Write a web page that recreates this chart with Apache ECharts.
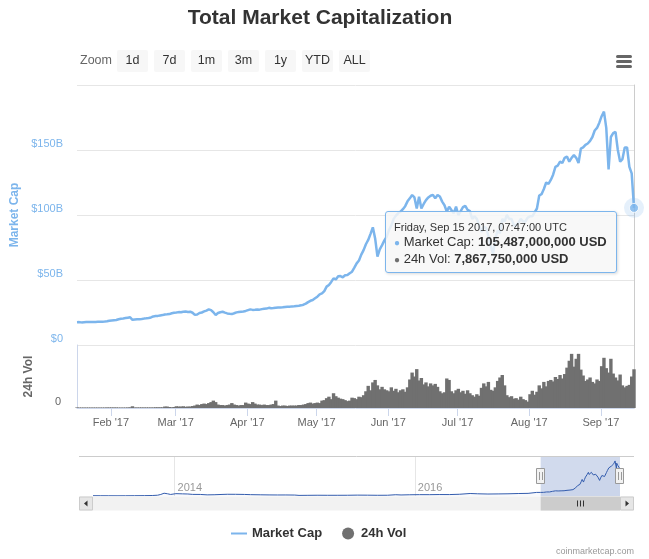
<!DOCTYPE html>
<html><head><meta charset="utf-8">
<script src="https://cdn.jsdelivr.net/npm/echarts@6/dist/echarts.min.js"></script>
<style>html,body{margin:0;padding:0;background:#fff}#c{width:649px;height:559px}</style>
</head><body><div id="c"></div>
<script>
// ---- data (billions of USD) ----
const startTime = Date.UTC(2017, 0, 17, 7, 47); // first daily point
const marketCapB = [
  // Jan 17-31
  17.5,17.6,17.4,17.5,17.6,17.7,17.6,17.6,17.7,17.8,17.8,17.9,18.0,18.3,18.7,
  // Feb
  18.9,19.1,19.2,19.8,20.2,20.4,20.7,21.0,21.3,19.4,19.6,19.8,19.8,20.0,20.3,20.5,20.8,21.2,22.0,22.3,22.4,22.7,23.0,23.5,23.6,23.8,24.4,24.8,
  // Mar
  25.0,25.3,25.2,25.6,25.8,25.4,25.6,24.8,23.2,23.5,24.6,25.0,25.8,26.5,27.4,26.8,25.2,23.1,24.6,25.2,25.6,24.9,24.3,24.0,23.8,24.4,25.1,25.4,25.6,25.8,26.2,
  // Apr
  26.8,27.4,27.0,27.1,27.3,27.2,27.6,27.9,28.0,28.6,28.2,28.4,28.7,28.9,28.8,29.0,29.3,29.5,29.4,29.7,29.8,30.0,30.2,30.5,31.0,31.8,33.0,34.0,34.6,35.9,
  // May
  37.2,39.0,39.7,41.5,44.9,46.2,48.5,51.3,50.4,52.8,53.0,52.1,53.6,53.8,55.2,56.4,59.5,62.8,65.0,69.5,73.0,77.5,80.8,85.5,90.5,82.0,68.0,73.5,76.8,80.5,83.3,
  // Jun
  88.5,92.0,97.0,99.5,101.5,102.6,104.5,106.8,110.5,112.8,115.4,113.5,105.0,114.0,105.0,108.5,111.5,113.5,114.8,115.5,112.8,115.4,114.2,110.3,107.5,102.6,106.4,103.8,101.3,106.4,
  // Jul
  100,103,106,107,104,103,97,99,97,92,87,91,90,84,76,70,82,88,86,97,95,100,97,97,92,92,94,97,95,95,98,
  // Aug
  99,99,102,105,115,116,120,125,124,127,131,137,138,141,140,144,145,141,144,146,144,140,151,152,154,155,157,160,165,167,171,
  // Sep 1-15
  176,179.5,167,135,160,163,164,150,141,143,152,152,137,132,105.487
];
const volumeB = [
  // Jan 17-31
  0.12,0.1,0.1,0.1,0.1,0.1,0.1,0.1,0.1,0.1,0.1,0.1,0.1,0.12,0.12,
  // Feb
  0.12,0.12,0.12,0.1,0.1,0.1,0.1,0.12,0.15,0.35,0.12,0.12,0.12,0.12,0.12,0.12,0.12,0.12,0.12,0.15,0.15,0.15,0.15,0.3,0.3,0.2,0.15,0.2,
  // Mar
  0.35,0.3,0.3,0.35,0.25,0.3,0.3,0.4,0.5,0.7,0.6,0.8,0.9,0.8,1.0,1.2,1.5,1.2,0.7,0.6,0.6,0.5,0.6,0.7,1.0,0.7,0.6,0.5,0.6,0.6,1.1,
  // Apr
  0.9,0.8,1.2,0.9,0.7,0.7,0.6,0.7,0.6,0.6,0.7,0.8,1.5,0.5,0.4,0.5,0.5,0.4,0.5,0.5,0.5,0.5,0.6,0.6,0.7,0.8,1.0,1.1,0.9,1.0,
  // May
  1.1,1.0,1.5,1.6,2.0,2.3,1.8,3.0,2.4,2.1,1.9,1.8,1.6,1.4,1.5,2.1,2.0,1.8,2.3,2.2,2.6,3.4,4.5,3.6,5.2,5.7,4.6,3.8,4.3,3.8,3.6,
  // Jun
  3.4,4.2,3.5,3.9,3.2,3.6,3.8,3.3,4.2,5.8,7.2,6.4,7.9,5.6,6.1,4.8,5.2,4.4,5.0,4.6,4.9,4.3,3.4,3.0,3.2,6.0,5.7,3.4,3.0,3.6,
  // Jul
  3.9,3.2,3.5,2.9,3.6,3.0,2.6,2.3,2.8,2.5,4.1,5.0,4.4,5.3,3.7,3.5,4.2,5.5,6.2,6.7,4.6,2.6,2.2,2.4,1.9,2.0,1.7,2.3,1.8,1.6,1.3,
  // Aug
  2.8,3.5,2.7,3.3,4.6,4.0,5.3,4.4,5.5,5.7,5.4,6.3,5.9,6.7,6.0,6.9,8.2,9.6,11.0,8.4,10.0,11.0,7.8,6.6,5.5,5.8,6.2,5.3,5.0,5.8,5.5,
  // Sep 1-15
  8.5,10.2,8.1,7.2,10.0,7.0,6.2,5.6,6.8,4.6,4.2,4.5,4.7,6.4,7.86775
];
// navigator history before the zoomed window
const navHistDates = ['2013-04-28','2013-05-20','2013-06-15','2013-07-10','2013-08-05','2013-09-01','2013-10-01','2013-10-25','2013-11-10','2013-11-20','2013-11-30','2013-12-10','2013-12-20',
  '2014-01-05','2014-01-25','2014-02-10','2014-02-25','2014-03-20','2014-04-10','2014-05-01','2014-05-25','2014-06-10','2014-07-05','2014-08-01','2014-08-20','2014-09-20','2014-10-15','2014-11-10','2014-12-05',
  '2015-01-01','2015-01-14','2015-02-10','2015-03-10','2015-04-10','2015-05-10','2015-06-10','2015-07-10','2015-08-10','2015-09-10','2015-10-10','2015-11-04','2015-11-20','2015-12-15',
  '2016-01-15','2016-02-15','2016-03-15','2016-04-15','2016-05-15','2016-06-17','2016-07-10','2016-08-10','2016-09-10','2016-10-10','2016-11-10','2016-12-10',
  '2017-01-05','2017-01-11'];
const navHistCapB = [1.5,1.3,1.2,1.0,1.2,1.5,1.8,2.4,3.8,7.5,13.5,11.0,7.5,
  11.5,10.5,9.8,7.8,7.6,5.6,6.1,7.6,8.4,8.3,7.6,6.6,5.8,5.3,5.0,5.1,
  4.6,2.9,3.3,3.7,3.5,3.5,3.6,4.3,4.0,3.5,3.7,6.2,5.1,6.0,
  6.6,6.5,7.1,7.0,8.4,12.2,10.8,9.6,10.2,10.8,12.1,12.8,
  17.5,14.8];
const monthTicks = ['2017-02-01','2017-03-01','2017-04-01','2017-05-01','2017-06-01','2017-07-01','2017-08-01','2017-09-01'];
const navYearTicks = ['2014-01-01','2016-01-01'];
const capTicksB = [0, 50, 100, 150, 200];
const zoomButtons = ['1d','7d','1m','3m','1y','YTD','ALL'];

// ---- build ----
const DAY = 86400000;
const dates = marketCapB.map((_, i) => startTime + i * DAY);
const last = dates.length - 1;
const capSeries = dates.map((t, i) => [t, marketCapB[i]]);
const volSeries = dates.map((t, i) => [t, volumeB[i]]);
const navSeries = navHistDates.map((d, i) => [Date.parse(d), navHistCapB[i]]).concat(capSeries);
const monthTickTimes = monthTicks.map(d => Date.parse(d));
const yearTickTimes = navYearTicks.map(d => Date.parse(d));
const MONTHS = ['Jan','Feb','Mar','Apr','May','Jun','Jul','Aug','Sep','Oct','Nov','Dec'];
const WEEKDAYS = ['Sunday','Monday','Tuesday','Wednesday','Thursday','Friday','Saturday'];
const FONT = '"Liberation Sans", Arial, Helvetica, sans-serif';

function commas(n) {
  return String(Math.round(n)).replace(/\B(?=(\d{3})+(?!\d))/g, ',');
}
function pad(n) { return (n < 10 ? '0' : '') + n; }
function header(t) {
  const d = new Date(t);
  return WEEKDAYS[d.getUTCDay()] + ', ' + MONTHS[d.getUTCMonth()] + ' ' + d.getUTCDate() + ' ' + d.getUTCFullYear() +
    ', ' + pad(d.getUTCHours()) + ':' + pad(d.getUTCMinutes()) + ':' + pad(d.getUTCSeconds()) + ' UTC';
}

const chart = echarts.init(document.getElementById('c'));
const option = {
  animation: false,
  textStyle: { fontFamily: FONT },
  title: {
    text: 'Total Market Capitalization', left: 320, textAlign: 'center', top: 8, padding: 0,
    textStyle: { fontSize: 21, fontWeight: 'bold', color: '#333', fontFamily: FONT }
  },
  legend: {
    data: [{ name: 'Market Cap', itemStyle: { opacity: 0 } }, { name: '24h Vol', icon: 'circle' }],
    left: 230, top: 527, padding: 0, itemWidth: 16, itemHeight: 12, itemGap: 20,
    selectedMode: false,
    textStyle: { fontSize: 13, fontWeight: 'bold', color: '#333', fontFamily: FONT }
  },
  tooltip: {
    trigger: 'item', triggerOn: 'none', alwaysShowContent: true, showDelay: 0, transitionDuration: 0,
    position: [385, 211],
    backgroundColor: 'rgba(247,247,247,0.85)', borderColor: '#7cb5ec', borderWidth: 1,
    padding: [8, 9, 5, 8],
    extraCssText: 'border-radius:3px;box-shadow:1px 1px 3px rgba(0,0,0,0.15);white-space:nowrap;',
    formatter: function () {
      const t = dates[last];
      return '<div style="font-family:' + FONT.replace(/"/g, "'") + ';color:#333;">' +
        '<div style="font-size:11px;line-height:14px;">' + header(t) + '</div>' +
        '<div style="font-size:13px;line-height:16px;"><span style="color:#7cb5ec;font-size:10px;">\u25CF</span> Market Cap: <b>' + commas(marketCapB[last] * 1e9) + ' USD</b></div>' +
        '<div style="font-size:13px;line-height:15px;"><span style="color:#707070;font-size:10px;">\u25CF</span> 24h Vol: <b>' + commas(volumeB[last] * 1e9) + ' USD</b></div>' +
        '</div>';
    }
  },
  grid: [
    { left: 77, right: 15, top: 85, height: 260 },
    { left: 77, right: 15, top: 345, height: 63 },
    { left: 93, right: 29, top: 456, height: 40 }
  ],
  xAxis: [
    { type: 'value', gridIndex: 0, min: dates[0], max: dates[last], show: false, splitLine: { show: false } },
    {
      type: 'value', gridIndex: 1, min: dates[0], max: dates[last],
      axisLine: { show: true, lineStyle: { color: '#ccd6eb' } },
      axisTick: { show: true, length: 8, lineStyle: { color: '#ccd6eb' }, customValues: monthTickTimes },
      axisLabel: {
        customValues: monthTickTimes, color: '#666', fontSize: 11, margin: 9, showMinLabel: true, showMaxLabel: true,
        formatter: v => { const d = new Date(v); return MONTHS[d.getUTCMonth()] + " '" + String(d.getUTCFullYear()).slice(2); }
      },
      splitLine: { show: false }
    },
    {
      type: 'value', gridIndex: 2, min: navSeries[0][0], max: dates[last],
      axisLine: { show: false },
      axisTick: { show: false, customValues: yearTickTimes },
      axisLabel: {
        customValues: yearTickTimes, inside: true, align: 'left', padding: [0, 0, 0, 3], color: '#999', fontSize: 11, margin: 3,
        formatter: v => String(new Date(v).getUTCFullYear())
      },
      splitLine: { show: true, lineStyle: { color: '#e6e6e6' } }
    }
  ],
  yAxis: [
    {
      type: 'value', gridIndex: 0, min: capTicksB[0], max: capTicksB[capTicksB.length - 1], interval: capTicksB[1] - capTicksB[0],
      name: 'Market Cap', nameLocation: 'middle', nameGap: 55, nameRotate: 90,
      nameTextStyle: { color: '#7cb5ec', fontWeight: 'bold', fontSize: 12, fontFamily: FONT },
      axisLine: { show: false }, axisTick: { show: false },
      splitLine: { lineStyle: { color: '#e6e6e6' } },
      axisLabel: { showMaxLabel: false, color: '#7cb5ec', fontSize: 11, margin: 14, verticalAlign: 'bottom', lineHeight: 12,
        formatter: v => v === 0 ? '$0' : '$' + v + 'B' }
    },
    {
      type: 'value', gridIndex: 1, min: 0, max: 12.8, interval: 12.8,
      name: '24h Vol', nameLocation: 'middle', nameGap: 42, nameRotate: 90,
      nameTextStyle: { color: '#666', fontWeight: 'bold', fontSize: 12, fontFamily: FONT },
      axisLine: { show: true, lineStyle: { color: '#ccd6eb' } }, axisTick: { show: false },
      splitLine: { show: false },
      axisLabel: { showMaxLabel: false, color: '#666', fontSize: 11, margin: 16, verticalAlign: 'bottom', lineHeight: 12,
        formatter: v => v === 0 ? '0' : '' }
    },
    { type: 'value', gridIndex: 0, position: 'right', min: 0, max: 1,
      axisLine: { show: true, lineStyle: { color: '#cccccc' } }, axisTick: { show: false }, axisLabel: { show: false }, splitLine: { show: false } },
    { type: 'value', gridIndex: 1, position: 'right', min: 0, max: 1,
      axisLine: { show: true, lineStyle: { color: '#cccccc' } }, axisTick: { show: false }, axisLabel: { show: false }, splitLine: { show: false } },
    { type: 'value', gridIndex: 2, min: 0, max: 195, show: false }
  ],
  series: [
    { name: 'Market Cap', type: 'line', xAxisIndex: 0, yAxisIndex: 0, data: capSeries, symbol: 'none',
      lineStyle: { color: '#7cb5ec', width: 2.5 }, itemStyle: { color: '#7cb5ec' }, z: 3, silent: true },
    { name: '24h Vol', type: 'bar', xAxisIndex: 1, yAxisIndex: 1, data: volSeries, barWidth: 3.4,
      itemStyle: { color: '#707070' }, silent: true },
    { name: 'halo', type: 'scatter', xAxisIndex: 0, yAxisIndex: 0, data: [capSeries[last]], symbolSize: 20,
      itemStyle: { color: 'rgba(124,181,236,0.25)' }, clip: false, silent: true, z: 4 },
    { name: 'hover', type: 'scatter', xAxisIndex: 0, yAxisIndex: 0, data: [capSeries[last]], symbolSize: 9,
      itemStyle: { color: '#7cb5ec', borderColor: '#ffffff', borderWidth: 1 }, clip: false, z: 5 },
    { name: 'Navigator', type: 'line', xAxisIndex: 2, yAxisIndex: 4, data: navSeries, symbol: 'none', silent: true,
      lineStyle: { color: '#335cad', width: 1 }, areaStyle: { color: 'rgba(51,92,173,0.05)' },
      markArea: { silent: true, itemStyle: { color: 'rgba(102,133,194,0.3)' }, label: { show: false },
        data: [[{ xAxis: dates[0] }, { xAxis: dates[last] }]] } }
  ]
};
chart.setOption(option);

// ---- UI decorations (range selector, menu, navigator handles, scrollbar, credits) ----
const nx0 = chart.convertToPixel({ xAxisIndex: 2 }, dates[0]);
const nx1 = chart.convertToPixel({ xAxisIndex: 2 }, dates[last]);
const g = [];
g.push({ type: 'text', x: 80, y: 61, z: 100, silent: true,
  style: { text: 'Zoom', fill: '#666', fontSize: 12.5, fontFamily: FONT, verticalAlign: 'middle' } });
zoomButtons.forEach((b, i) => {
  const bx = 117 + i * 37;
  g.push({ type: 'rect', z: 100, silent: true, shape: { x: bx, y: 50, width: 31, height: 22, r: 2 }, style: { fill: '#f7f7f7' } });
  g.push({ type: 'text', x: bx + 15.5, y: 61, z: 101, silent: true,
    style: { text: b, fill: '#333', fontSize: 12.5, fontFamily: FONT, align: 'center', verticalAlign: 'middle' } });
});
[56.5, 61.5, 66.5].forEach(y => g.push({ type: 'line', z: 100, silent: true,
  shape: { x1: 617.5, y1: y, x2: 630.5, y2: y }, style: { stroke: '#666', lineWidth: 3, lineCap: 'round' } }));
// navigator outline
g.push({ type: 'line', z: 100, silent: true, shape: { x1: 79, y1: 456.5, x2: 634, y2: 456.5 }, style: { stroke: '#cccccc', lineWidth: 1 } });
// scrollbar
g.push({ type: 'rect', z: 100, silent: true, shape: { x: 79, y: 496.5, width: 555, height: 14 }, style: { fill: '#f2f2f2' } });
g.push({ type: 'rect', z: 101, silent: true, shape: { x: nx0, y: 496.5, width: nx1 - nx0, height: 14 }, style: { fill: '#cccccc' } });
const cx = Math.round((nx0 + nx1) / 2);
[-3, 0, 3].forEach(o => g.push({ type: 'line', z: 102, silent: true,
  shape: { x1: cx + o + 0.5, y1: 500.5, x2: cx + o + 0.5, y2: 506.5 }, style: { stroke: '#333', lineWidth: 1 } }));
g.push({ type: 'rect', z: 101, silent: true, shape: { x: 79.5, y: 497, width: 13, height: 13 }, style: { fill: '#e6e6e6', stroke: '#cccccc', lineWidth: 1 } });
g.push({ type: 'polygon', z: 102, silent: true, shape: { points: [[87.5, 500.5], [87.5, 506.5], [84, 503.5]] }, style: { fill: '#333' } });
g.push({ type: 'rect', z: 101, silent: true, shape: { x: 620.5, y: 497, width: 13, height: 13 }, style: { fill: '#e6e6e6', stroke: '#cccccc', lineWidth: 1 } });
g.push({ type: 'polygon', z: 102, silent: true, shape: { points: [[625.5, 500.5], [625.5, 506.5], [629, 503.5]] }, style: { fill: '#333' } });
// navigator handles
[nx0, nx1].forEach(x => {
  const hx = Math.round(x);
  g.push({ type: 'rect', z: 103, silent: true, shape: { x: hx - 4.5, y: 468.5, width: 8, height: 15 }, style: { fill: '#f2f2f2', stroke: '#999', lineWidth: 1 } });
  g.push({ type: 'line', z: 104, silent: true, shape: { x1: hx - 1.5, y1: 472, x2: hx - 1.5, y2: 480 }, style: { stroke: '#999', lineWidth: 1 } });
  g.push({ type: 'line', z: 104, silent: true, shape: { x1: hx + 1.5, y1: 472, x2: hx + 1.5, y2: 480 }, style: { stroke: '#999', lineWidth: 1 } });
});
// credits
g.push({ type: 'text', x: 634, y: 552, z: 100, silent: true,
  style: { text: 'coinmarketcap.com', fill: '#999', fontSize: 9, fontFamily: FONT, align: 'right', verticalAlign: 'middle' } });
chart.setOption({ graphic: { elements: g } });

chart.dispatchAction({ type: 'showTip', seriesIndex: 3, dataIndex: 0 });
</script>
</body></html>
